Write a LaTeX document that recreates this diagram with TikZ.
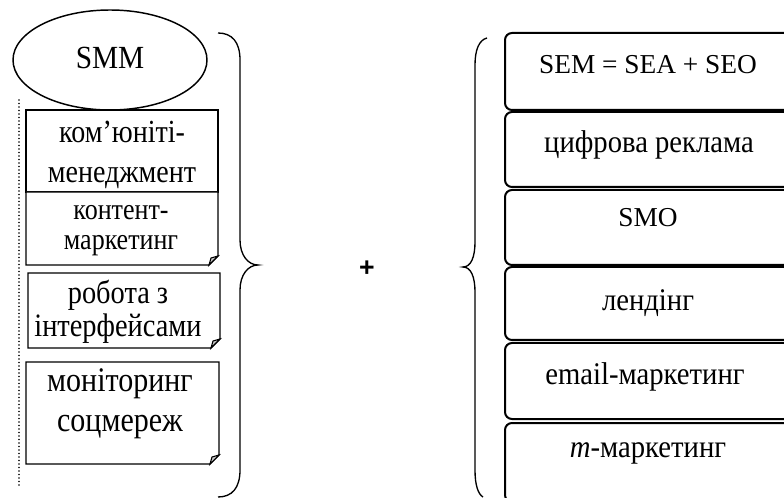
\documentclass[tikz,border=0pt]{standalone}
\usepackage{fontspec}
\setmainfont{Liberation Serif}
\newfontfamily\plusfont{Liberation Sans}
\tikzset{every picture/.style={line width=0.75pt}}
\tikzset{
  notebox/.style={draw=black,line width=1pt,fill=white},
  foldtip/.style={draw=black,line width=0.8pt,fill={rgb,255:red,200;green,200;blue,200}},
  toolbox/.style={draw=black,line width=1.5pt,rounded corners=5.25pt},
  bracepath/.style={draw=black,line width=1pt},
  itemtext/.style={inner sep=0.75pt,align=center},
  tallitem/.style={itemtext,yscale=1.15}
}

\begin{document}
\begin{tikzpicture}[x=0.75pt,y=0.75pt,yscale=-1,xscale=1]
\useasboundingbox (0,0) rectangle (784,498);
\clip (0,0) rectangle (784,498);

%Dotted line
\foreach \y in {100,103.5,...,488} {
  \fill (19,\y) circle (0.95) ;
}

%Shape: Ellipse SMM
\draw [line width=1.1pt] (110,60) ellipse (97 and 50) ;
% Text Node
\node [itemtext,yscale=1.1,font=\fontsize{22}{26}\selectfont] (smm) at (110,58) {SMM};

%Shape: Rectangle 1
\draw [notebox] (26,110) -- (218,110) -- (218,192) -- (26,192) -- cycle ;
% Text Node
\node [tallitem,font=\fontsize{21}{26}\selectfont] (community) at (122,155) {ком’юніті-\\менеджмент};

%Shape: Folded Corner 2
\draw [notebox] (26,192) -- (218,192) -- (218,256) -- (209,265) -- (26,265) -- cycle ;
\draw [foldtip] (218,256) -- (211,258) -- (209,265) -- cycle ;
% Text Node
\node [tallitem,font=\fontsize{19.5}{19.5}\selectfont] (content) at (121,231) {контент-\\маркетинг};

%Shape: Folded Corner 3
\draw [notebox] (28,273) -- (220,273) -- (220,339) -- (211,348) -- (28,348) -- cycle ;
\draw [foldtip] (220,339) -- (213,341) -- (211,348) -- cycle ;
% Text Node
\node [tallitem,font=\fontsize{21.3}{21.5}\selectfont] (iface) at (118,312) {робота з\\інтерфейсами};

%Shape: Folded Corner 4
\draw [notebox] (26,362) -- (219,362) -- (219,455) -- (210,464) -- (26,464) -- cycle ;
\draw [foldtip] (219,455) -- (212,457) -- (210,464) -- cycle ;
% Text Node
\node [tallitem,font=\fontsize{22.5}{26}\selectfont] (monitor) at (120,404) {моніторинг\\соцмереж};

%Right brace of the left group
\draw [bracepath] (218,33) .. controls (232,33) and (240,42) .. (240,60) -- (240,240) .. controls (240,255) and (248,265) .. (258,265) .. controls (248,265) and (240,275) .. (240,290) -- (240,470) .. controls (240,488) and (232,497) .. (218,497) ;

% Text Node
\node [inner sep=0.75pt,font=\plusfont\bfseries\fontsize{20}{22}\selectfont] (plus) at (367,269) {+};

%Left brace of the right group
\draw [bracepath] (487,38) .. controls (479,40) and (475,50) .. (475,65) -- (475,242) .. controls (475,257) and (471,267) .. (463,267) .. controls (471,267) and (475,277) .. (475,292) -- (475,470) .. controls (475,485) and (478,494) .. (483,497) ;

%Rounded boxes
\draw [toolbox] (505,33) rectangle (791,110) ;
\draw [toolbox] (505,112) rectangle (791,187) ;
\draw [toolbox] (505,190) rectangle (791,265) ;
\draw [toolbox] (505,267) rectangle (791,340) ;
\draw [toolbox] (505,343) rectangle (791,419) ;
\draw [toolbox] (505,423) rectangle (791,502) ;

% Text Nodes
\node [itemtext,font=\fontsize{20.5}{24}\selectfont] (sem) at (648,65) {SEM = SEA + SEO};
\node [itemtext,yscale=1.1,font=\fontsize{21.5}{24}\selectfont] (digital) at (649,145) {цифрова реклама};
\node [itemtext,font=\fontsize{20.5}{24}\selectfont] (smo) at (648,218) {SMO};
\node [itemtext,yscale=1.1,font=\fontsize{21.5}{24}\selectfont] (landing) at (648,303) {лендінг};
\node [itemtext,yscale=1.1,font=\fontsize{21.5}{24}\selectfont] (email) at (645,377) {email-маркетинг};
\node [itemtext,yscale=1.1,font=\fontsize{21.5}{24}\selectfont] (mobile) at (648,453) {\textit{m}-маркетинг};

\end{tikzpicture}
\end{document}
